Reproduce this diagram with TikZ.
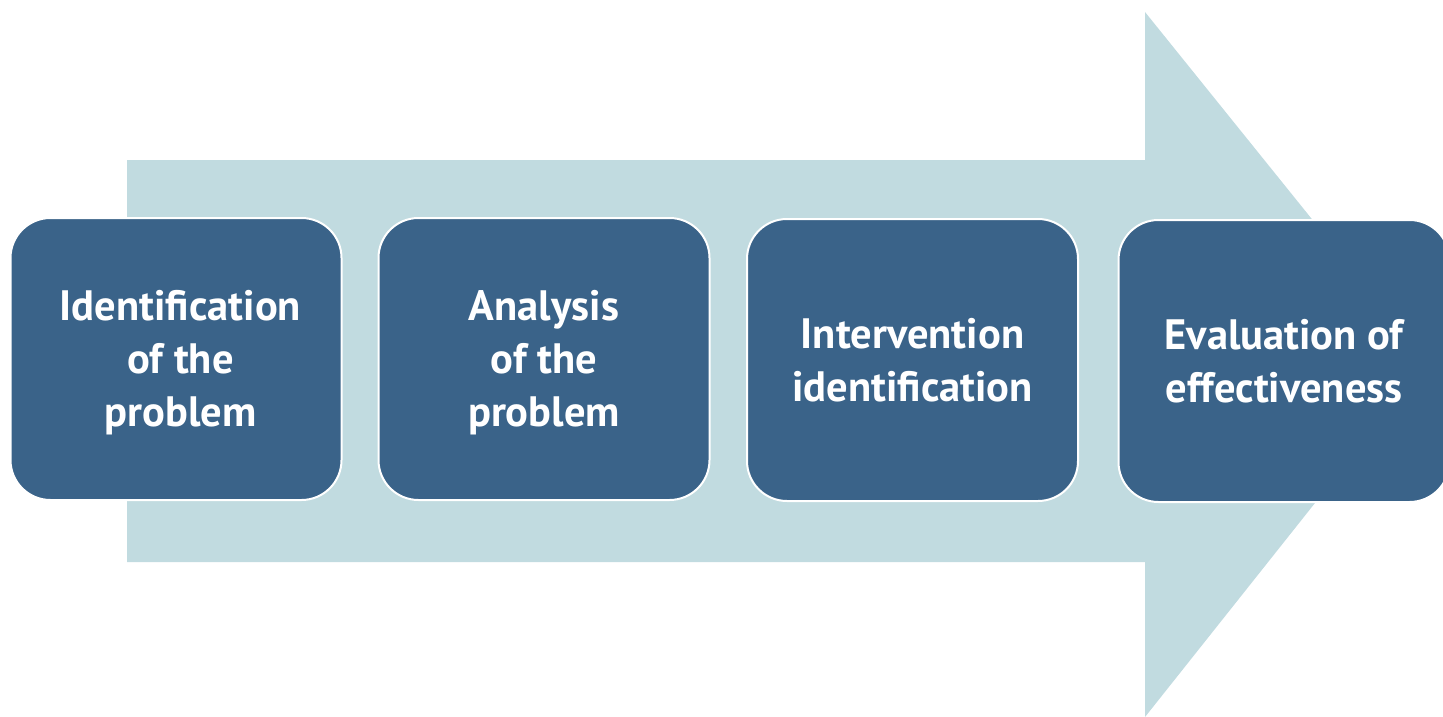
\documentclass[tikz,border=0pt]{standalone}
\usepackage{fontspec}
\setmainfont{PT Sans}
\definecolor{stepblue}{HTML}{3A6389}
\definecolor{arrowfill}{HTML}{C1DBE0}
% stacked lines, set a little below the box centre
\newcommand{\steptext}[2][0pt]{\hspace*{#1}\raisebox{0pt}[\dimexpr\height+8pt\relax][\depth]{\begin{tabular}{@{}c@{}}#2\end{tabular}}}
\begin{document}
\begin{tikzpicture}[x=1pt,y=-1pt,
  stepbox/.style={draw=white, line width=2pt, fill=stepblue, rounded corners=40pt,
    minimum width=331pt, minimum height=282pt, inner sep=0pt,
    text=white, align=center, font=\bfseries\fontsize{42.5}{53}\selectfont}]
  \useasboundingbox (0,0) rectangle (1443,717);
  \clip (0,0) rectangle (1443,717);
  % background process arrow
  \fill[arrowfill] (127,160) -- (1145,160) -- (1145,12) -- (1427,362)
    -- (1145,717) -- (1145,562) -- (127,562) -- cycle;
  % process steps
  \node[stepbox] (s1) at (176,359) {\steptext[9pt]{Identification\\of the\\problem}};
  \node[stepbox] (s2) at (544,359) {\steptext{Analysis\\of the\\problem}};
  \node[stepbox] (s3) at (912.5,360) {\steptext{Intervention\\identification}};
  \node[stepbox] (s4) at (1284,361) {\steptext{Evaluation of\\effectiveness}};
\end{tikzpicture}
\end{document}
